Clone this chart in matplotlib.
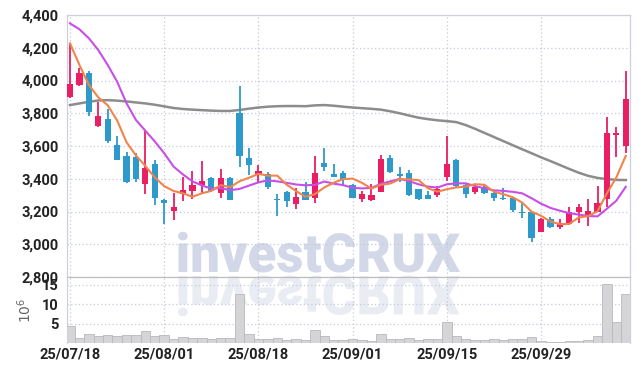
import matplotlib.pyplot as plt
import numpy as np
from matplotlib.patches import PathPatch
from matplotlib.textpath import TextPath
from matplotlib.font_manager import FontProperties
from matplotlib.transforms import Affine2D

# daily candles (trading-day index 0..59)
opens = [3900, 3970, 4045, 3722, 3765, 3605, 3540, 3530, 3365, 3490,
         3270, 3205, 3305, 3325, 3360, 3405, 3310, 3405, 3800, 3525,
         3430, 3427, 3275, 3320, 3248, 3320, 3280, 3496, 3430, 3435,
         3362, 3275, 3268, 3320, 3527, 3428, 3437, 3335, 3300, 3303,
         3409, 3514, 3364, 3321, 3348, 3313, 3284, 3281, 3197, 3197,
         3077, 3152, 3107, 3124, 3197, 3165, 3197, 3274, 3669, 3602]
highs = [4227, 4075, 4055, 3870, 3825, 3660, 3565, 3555, 3700, 3515,
         3275, 3310, 3410, 3450, 3510, 3410, 3460, 3410, 3965, 3585,
         3485, 3440, 3307, 3325, 3345, 3378, 3540, 3586, 3490, 3447,
         3365, 3327, 3366, 3543, 3543, 3472, 3453, 3340, 3327, 3356,
         3661, 3522, 3370, 3362, 3368, 3317, 3345, 3290, 3256, 3200,
         3158, 3168, 3155, 3227, 3246, 3275, 3356, 3780, 3718, 4058]
lows = [3895, 3965, 3785, 3715, 3620, 3512, 3375, 3380, 3305, 3240,
        3125, 3150, 3265, 3275, 3315, 3320, 3285, 3268, 3470, 3420,
        3382, 3340, 3170, 3225, 3215, 3270, 3254, 3445, 3408, 3356,
        3280, 3255, 3265, 3318, 3437, 3382, 3297, 3273, 3274, 3290,
        3386, 3352, 3281, 3305, 3309, 3266, 3270, 3199, 3158, 3014,
        3074, 3100, 3093, 3120, 3132, 3113, 3195, 3226, 3535, 3555]
closes = [3980, 4045, 3805, 3783, 3632, 3515, 3380, 3400, 3465, 3280,
          3250, 3228, 3330, 3360, 3385, 3325, 3405, 3272, 3540, 3486,
          3447, 3352, 3268, 3266, 3290, 3272, 3433, 3474, 3412, 3400,
          3285, 3305, 3300, 3523, 3440, 3418, 3301, 3276, 3276, 3335,
          3490, 3356, 3305, 3348, 3315, 3283, 3278, 3209, 3191, 3036,
          3154, 3103, 3130, 3197, 3229, 3200, 3250, 3681, 3681, 3887]
# volume in millions
volume = [4.4, 1.4, 2.2, 1.8, 2.0, 1.8, 2.0, 2.0, 3.0, 1.8,
          2.0, 1.0, 1.5, 1.3, 1.4, 1.0, 1.2, 1.2, 12.7, 2.3,
          1.0, 1.0, 1.2, 0.85, 1.0, 0.8, 3.3, 1.9, 0.8, 0.8,
          1.0, 0.8, 0.5, 2.2, 1.0, 1.0, 1.2, 0.7, 1.0, 1.0,
          5.3, 1.7, 1.0, 0.75, 0.85, 1.0, 0.85, 1.0, 1.0, 1.45,
          0.4, 0.35, 0.35, 0.6, 0.6, 0.7, 1.8, 15.3, 5.5, 12.7]

ma5 = [4227, 4095, 3973, 3897, 3849, 3756, 3623, 3542, 3478, 3408,
       3355, 3325, 3311, 3290, 3311, 3326, 3361, 3349, 3385, 3406,
       3430, 3419, 3419, 3364, 3325, 3290, 3306, 3347, 3376, 3398,
       3401, 3375, 3340, 3363, 3371, 3397, 3396, 3392, 3342, 3321,
       3336, 3347, 3352, 3367, 3363, 3321, 3306, 3287, 3255, 3199,
       3174, 3139, 3123, 3124, 3163, 3172, 3201, 3311, 3408, 3540]
ma10 = [4349, 4313, 4258, 4186, 4095, 3993, 3861, 3759, 3693, 3628,
        3556, 3474, 3426, 3384, 3359, 3340, 3343, 3330, 3338, 3358,
        3378, 3390, 3384, 3375, 3365, 3360, 3363, 3383, 3370, 3361,
        3345, 3341, 3344, 3369, 3384, 3399, 3386, 3366, 3352, 3346,
        3366, 3372, 3372, 3355, 3342, 3329, 3326, 3320, 3311, 3281,
        3248, 3222, 3205, 3190, 3181, 3173, 3170, 3217, 3266, 3351]
ma_long = [3850, 3860, 3870, 3878, 3880, 3877, 3872, 3866, 3860, 3852,
           3842, 3832, 3826, 3822, 3819, 3816, 3814, 3814, 3820, 3828,
           3835, 3840, 3843, 3844, 3844, 3843, 3848, 3850, 3846, 3840,
           3835, 3831, 3827, 3822, 3812, 3800, 3786, 3773, 3764, 3757,
           3752, 3746, 3728, 3705, 3680, 3655, 3630, 3605, 3580, 3556,
           3531, 3508, 3484, 3460, 3437, 3418, 3405, 3398, 3393, 3392]

tick_pos = [0, 10, 20, 30, 40, 50]
tick_labels = ['25/07/18', '25/08/01', '25/08/18', '25/09/01', '25/09/15', '25/09/29']
price_ticks = [2800, 3000, 3200, 3400, 3600, 3800, 4000, 4200, 4400]
vol_ticks = [5, 10, 15]

UP = '#e91e63'
DOWN = '#2e9acb'
GRID = '#c5cadc'
SPINE = '#cdd0da'
FONT = ['Liberation Sans Narrow', 'Roboto', 'DejaVu Sans']

W, H = 639, 371
fig = plt.figure(figsize=(W / 100, H / 100), dpi=100)
ax = fig.add_axes([67 / W, 1 - 277 / H, (630 - 67) / W, (277 - 15) / H])
axv = fig.add_axes([67 / W, 1 - 343 / H, (630 - 67) / W, (343 - 277) / H], sharex=ax)

# watermark with reflection, behind the (transparent) axes
tp = TextPath((0, 0), 'investCRUX', size=54,
              prop=FontProperties(family=['Roboto', 'DejaVu Sans'], weight='black'))
ext = tp.get_extents()
sx = 282 / ext.width
x0 = 178 - ext.x0 * sx
to_disp = Affine2D().scale(1 / 100) + fig.dpi_scale_trans
main_tr = Affine2D().scale(sx, 1).translate(x0, H - 272) + to_disp
refl_tr = Affine2D().scale(sx, -1).translate(x0, H - 276) + to_disp
fig.add_artist(PathPatch(tp, transform=main_tr, fc='#d3d8e8', ec='none', zorder=-1))
fig.add_artist(PathPatch(tp, transform=refl_tr, fc='#eaecf4', ec='none', zorder=-1))

x = np.arange(len(closes))
o = np.array(opens)
c = np.array(closes)
colors = [UP if cc >= oo else DOWN for oo, cc in zip(o, c)]
bottoms = np.minimum(o, c)
heights = np.maximum(np.abs(c - o), 7)

ax.vlines(x, lows, highs, colors=colors, linewidth=1.3, zorder=3)
ax.bar(x, heights, bottom=bottoms, width=0.66, color=colors, linewidth=0, zorder=4)

ax.plot(x, ma_long, color='#808080', linewidth=1.8, alpha=0.9, zorder=2)
ax.plot(x, ma10, color='#c94ee8', linewidth=1.5, zorder=5)
ax.plot(x, ma5, color='#f0844c', linewidth=1.5, zorder=6)

axv.bar(x, volume, width=1.0, color='#d5d5d8', edgecolor='#b9b9bd', linewidth=0.6, zorder=3)

for a in (ax, axv):
    a.set_facecolor('none')
    a.grid(True, color=GRID, linestyle=(0, (1, 2)), linewidth=0.9)
    a.set_axisbelow(True)
    a.tick_params(length=0, labelsize=10.5, labelcolor='#222222', pad=6)
    for s in a.spines.values():
        s.set_color(SPINE)
        s.set_linewidth(0.9)

ax.set_xlim(-0.32, 59.45)
ax.set_xticks(tick_pos)
ax.tick_params(labelbottom=False)
ax.set_ylim(2800, 4400)
ax.set_yticks(price_ticks)
ax.set_yticklabels([f'{v:,}' for v in price_ticks], family=FONT, weight='bold')
ax.spines['bottom'].set_color('#bdbdbd')

axv.set_ylim(0, 17)
axv.set_yticks(vol_ticks)
axv.set_yticklabels([str(v) for v in vol_ticks], family=FONT, weight='bold')
axv.set_xticklabels(tick_labels, family=FONT, weight='bold')
axv.tick_params(axis='x', pad=3)
axv.spines['top'].set_visible(False)
axv.spines['bottom'].set_visible(False)
axv.set_ylabel(r'$10^{6}$', color='#666666', fontsize=10, labelpad=6)

fig.savefig('out.png', dpi=100)
